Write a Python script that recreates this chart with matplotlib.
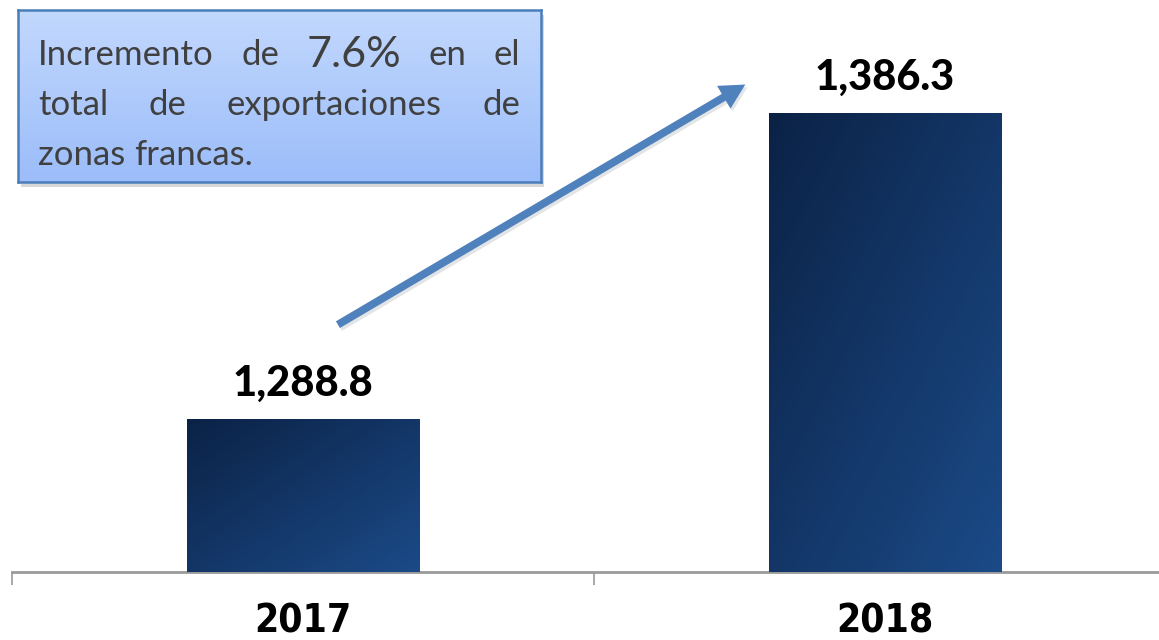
import numpy as np
import matplotlib
matplotlib.use("Agg")
import matplotlib.pyplot as plt
from matplotlib.colors import LinearSegmentedColormap
import matplotlib.patheffects as pe

# data
years = ["2017", "2018"]
exports = [1288.8, 1386.3]
value_labels = ["1,288.8", "1,386.3"]
note_lines = [["Incremento", "de", "7.6%", "en", "el"],
              ["total", "de", "exportaciones", "de"],
              ["zonas", "francas."]]

fig = plt.figure(figsize=(11.59, 6.4), dpi=100)
W, H = 1159, 640

# main axes: extends a bit past the right edge like the original slide
ax = fig.add_axes([12 / W, 68 / H, 1164 / W, 565 / H])

bar_cmap = LinearSegmentedColormap.from_list("navy", ["#0b2246", "#1b4a87"])
x = np.arange(len(years))
bars = ax.bar(x, np.array(exports) - 1240, bottom=1240, width=0.4, color="#133a6c", zorder=2)

# diagonal gradient inside each bar
gx, gy = np.meshgrid(np.linspace(0, 1, 64), np.linspace(0, 1, 64))
grad = (gx + gy) / 2
for b in bars:
    x0, y0 = b.get_x(), b.get_y()
    im = ax.imshow(grad, cmap=bar_cmap, aspect="auto", origin="upper",
                   extent=[x0, x0 + b.get_width(), y0, y0 + b.get_height()], zorder=3)
    im.set_clip_path(b)
ax.set_xlim(-0.5, 1.5)
ax.set_ylim(1240, 1420)

for xi, v, lab in zip(x, exports, value_labels):
    ax.text(xi, v + 5, lab, ha="center", va="bottom", fontsize=30,
            fontweight="black", family="Lato", color="black")

# axis styling
for s in ["left", "right", "top"]:
    ax.spines[s].set_visible(False)
ax.spines["bottom"].set_color("#9a9a9a")
ax.spines["bottom"].set_linewidth(2)
ax.set_yticks([])
ax.set_xticks(x)
ax.set_xticklabels(years, fontsize=28, fontweight="bold", family="DejaVu Sans",
                   fontstretch="condensed")
ax.tick_params(axis="x", which="major", length=0, pad=22)
ax.set_xticks([-0.5, 0.5, 1.5], minor=True)
ax.tick_params(axis="x", which="minor", length=9, width=1.2, color="#9a9a9a", direction="out")
ax.patch.set_alpha(0)

# arrow from 2017 toward 2018 (filled, sharp head)
ax.annotate("", xy=(0.76, exports[1] + 9), xytext=(0.06, exports[0] + 30),
            arrowprops=dict(arrowstyle="simple,head_length=0.9,head_width=0.95,tail_width=0.28",
                            mutation_scale=20, facecolor="#4f81bd", edgecolor="none",
                            shrinkA=0, shrinkB=0,
                            path_effects=[pe.SimplePatchShadow(offset=(1.5, -2), alpha=0.12),
                                          pe.Normal()]),
            zorder=5)

# note box
bx, by, bw, bh = 18, 10, 523, 172
shadow = fig.add_axes([(bx + 3) / W, 1 - (by + bh + 5) / H, bw / W, bh / H])
shadow.set_facecolor("#bfbfbf")
shadow.patch.set_alpha(0.6)
shadow.set_xticks([]); shadow.set_yticks([])
for s in shadow.spines.values():
    s.set_visible(False)

box = fig.add_axes([bx / W, 1 - (by + bh) / H, bw / W, bh / H])
box_cmap = LinearSegmentedColormap.from_list("lb", ["#c2d8fd", "#9cbdfa"])
box.imshow(np.linspace(0, 1, 64).reshape(-1, 1), cmap=box_cmap, aspect="auto",
           extent=[0, 1, 0, 1], origin="upper")
box.set_xlim(0, 1); box.set_ylim(0, 1)
box.set_xticks([]); box.set_yticks([])
for s in box.spines.values():
    s.set_color("#4a7ebb")
    s.set_linewidth(1.8)

# justified note text
fig.canvas.draw()
renderer = fig.canvas.get_renderer()
left_px, right_px = bx + 20, bx + 502
line_y = [55, 105, 155]
for li, (words, ypx) in enumerate(zip(note_lines, line_y)):
    objs = []
    for w in words:
        size = 31 if w == "7.6%" else 25
        objs.append(fig.text(0, 1 - ypx / H, w, fontsize=size, family="Lato",
                             color="#404040", va="center", ha="left"))
    widths = [o.get_window_extent(renderer).width for o in objs]
    if li < len(note_lines) - 1:
        gap = (right_px - left_px - sum(widths)) / (len(words) - 1)
    else:
        gap = 9
    xpos = left_px
    for o, wd in zip(objs, widths):
        o.set_x(xpos / W)
        xpos += wd + gap

fig.savefig("out.png", dpi=100)
